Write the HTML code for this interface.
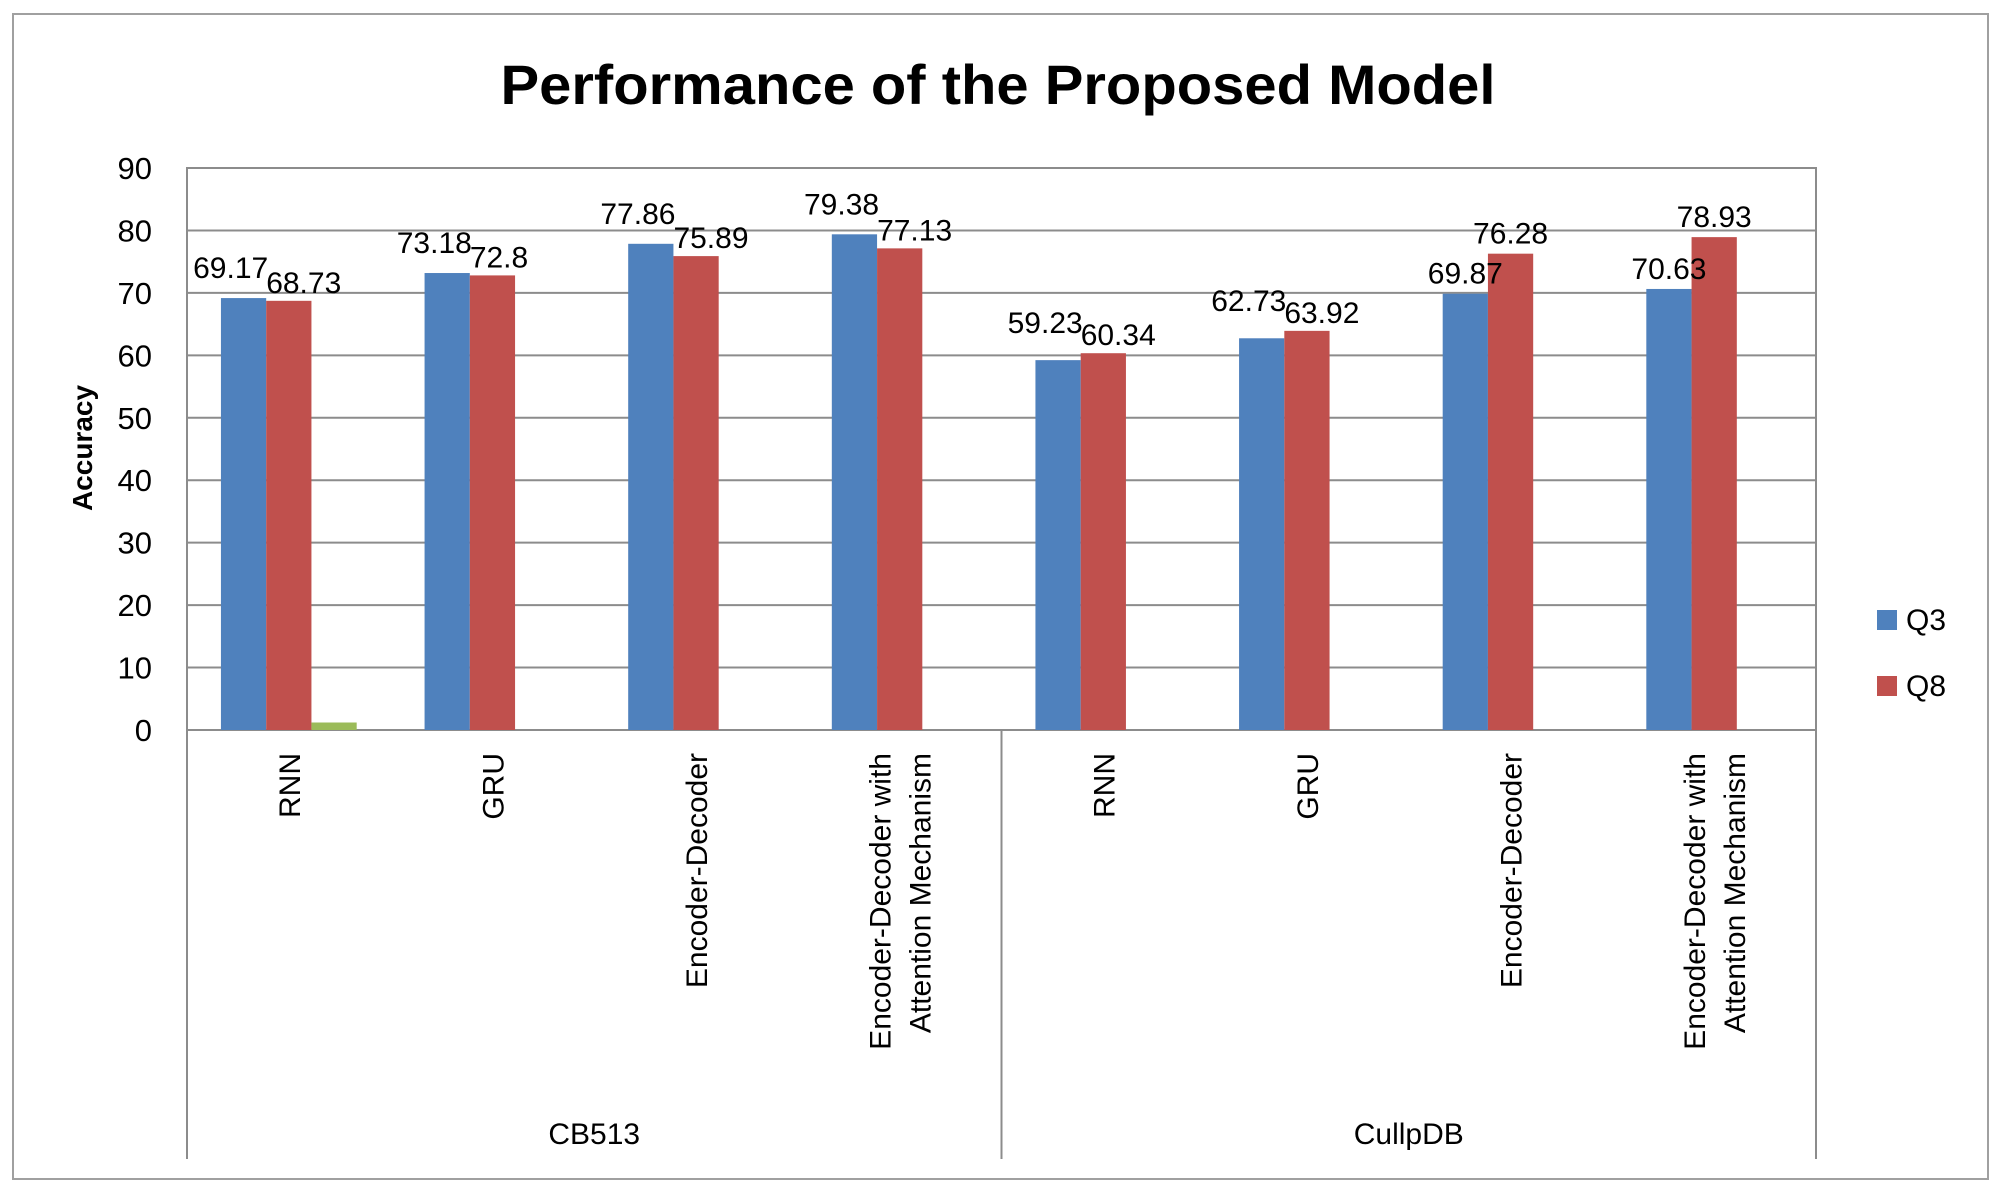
<!DOCTYPE html>
<html><head><meta charset="utf-8"><style>
html,body{margin:0;padding:0;background:#fff;}
svg{display:block;font-family:"Liberation Sans",sans-serif;}
</style></head><body>
<svg id="chart" width="2000" height="1193" viewBox="0 0 2000 1193">
<rect x="13" y="14" width="1975" height="1165" fill="#fff" stroke="#a0a0a0" stroke-width="2"/>
<text x="998" y="104" text-anchor="middle" font-size="56" font-weight="bold" textLength="995" lengthAdjust="spacingAndGlyphs">Performance of the Proposed Model</text>
<text transform="translate(92,448) rotate(-90)" text-anchor="middle" font-size="28" font-weight="bold">Accuracy</text>
<g id="plot"></g>
<rect x="1877" y="610" width="20" height="20" fill="#4F81BD"/>
<text x="1906" y="630" font-size="30">Q3</text>
<rect x="1877" y="676" width="20" height="20" fill="#C0504D"/>
<text x="1906" y="696" font-size="30">Q8</text>
</svg>
<script>
const groups = ["CB513", "CullpDB"];
const categories = ["RNN", "GRU", "Encoder-Decoder", "Encoder-Decoder with|Attention Mechanism", "RNN", "GRU", "Encoder-Decoder", "Encoder-Decoder with|Attention Mechanism"];
const q3 = [69.17, 73.18, 77.86, 79.38, 59.23, 62.73, 69.87, 70.63];
const q8 = [68.73, 72.8, 75.89, 77.13, 60.34, 63.92, 76.28, 78.93];
const series3 = [1.2, 0, 0, 0, 0, 0, 0, 0];
const yTicks = [0, 10, 20, 30, 40, 50, 60, 70, 80, 90];

const NS = "http://www.w3.org/2000/svg";
const g = document.getElementById("plot");
const L = 187, R = 1816, T = 168, B = 730, AB = 1159, yMax = 90;
const y = v => B - (v / yMax) * (B - T);
const slot = (R - L) / categories.length;
const bw = slot / 4.5;
function bx(i, s) { return L + i * slot + (slot - 3 * bw) / 2 + s * bw; }
function mk(tag, attrs) { const e = document.createElementNS(NS, tag); for (const k in attrs) e.setAttribute(k, attrs[k]); g.appendChild(e); return e; }

yTicks.forEach(t => {
  const ln = mk("line", {x1: L, x2: R, y1: y(t), y2: y(t), stroke: "#8c8c8c", "stroke-width": 2});
  
  
  const tx = mk("text", {x: 152, y: y(t) + 11, "text-anchor": "end", "font-size": 31});
  tx.textContent = t;
  
  
});
const fr = mk("rect", {x: L, y: T, width: R - L, height: B - T, fill: "none", stroke: "#8c8c8c", "stroke-width": 2});



const series = [[q3, "#4F81BD", "q3"], [q8, "#C0504D", "q8"], [series3, "#9BBB59", "series3"]];
categories.forEach((c, i) => {
  series.forEach(([arr, col, nm], s) => {
    const v = arr[i];
    if (v <= 0) return;
    const r = mk("rect", {x: bx(i, s), y: y(v), width: bw, height: B - y(v), fill: col});
    
    
  });
  const lines = c.split("|");
  const cx = L + (i + 0.5) * slot;
  lines.forEach((ln, k) => {
    const off = (k - (lines.length - 1) / 2) * 40;
    const t = mk("text", {transform: `translate(${cx + off + 11},753) rotate(-90)`, "text-anchor": "end", "font-size": 30});
    t.textContent = ln;
    
    
  });
});
// data labels drawn after bars
categories.forEach((c, i) => {
  const sep = q8[i] > q3[i] + 4;
  const a = q3[i], b = q8[i];
  const t1 = sep
    ? mk("text", {x: bx(i, 0) + bw / 2, y: y(a) - 10, "text-anchor": "middle", "font-size": 30})
    : mk("text", {x: bx(i, 0) + bw + 2, y: y(Math.max(a, b)) - 20, "text-anchor": "end", "font-size": 30});
  t1.textContent = a;
  
  
  const t2 = sep
    ? mk("text", {x: bx(i, 1) + bw / 2, y: y(b) - 10, "text-anchor": "middle", "font-size": 30})
    : mk("text", {x: bx(i, 1), y: y(b) - 8, "text-anchor": "start", "font-size": 30});
  t2.textContent = b;
  
  
});
[L, (L + R) / 2, R].forEach(xx => {
  const ln = mk("line", {x1: xx, x2: xx, y1: B, y2: AB, stroke: "#8c8c8c", "stroke-width": 2});
  
  
});
groups.forEach((gr, k) => {
  const t = mk("text", {x: L + (k + 0.5) * (R - L) / 2, y: 1144, "text-anchor": "middle", "font-size": 30});
  t.textContent = gr;
  
  
});
</script>
</body></html>
